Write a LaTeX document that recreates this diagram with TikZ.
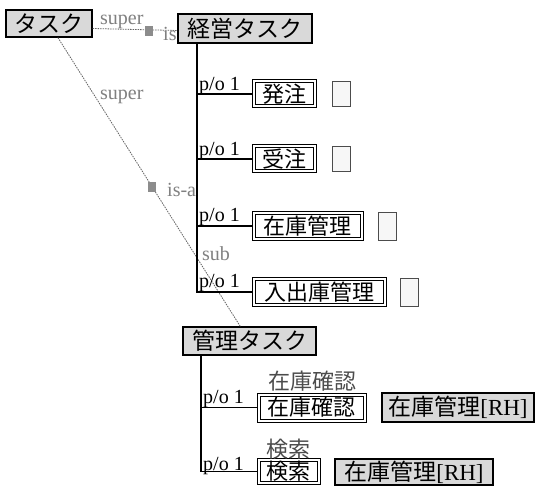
\documentclass[tikz,border=0pt]{standalone}
\usepackage{fontspec}
\setmainfont{Liberation Serif}
\newfontfamily\jp{Noto Sans CJK JP}
\usetikzlibrary{calc}
\definecolor{boxgray}{HTML}{D9D9D9}
\definecolor{lblgray}{HTML}{808080}
\tikzset{
  graybox/.style={draw, line width=1.1pt, fill=boxgray, inner sep=0pt, font=\fontsize{23}{24}\selectfont\jp},
  dbox/.style={draw, line width=1pt, fill=white, inner sep=0pt, font=\fontsize{22}{24}\selectfont\jp},
  ebox/.style={draw=black!70, line width=0.9pt, fill=black!3, inner sep=0pt, minimum width=18, minimum height=25},
  lbl/.style={font=\fontsize{20}{20}\selectfont, inner sep=0pt},
  glbl/.style={lbl, text=lblgray},
  over/.style={inner sep=0pt, text=black!70, font=\fontsize{22}{24}\selectfont\jp},
  trunk/.style={line width=1.3pt},
  inner/.style={line width=1pt},
  isa/.style={dash pattern=on 1.5pt off 1pt, draw=black!60, line width=0.8pt},
  icon/.style={fill=black!45, inner sep=0pt, minimum width=8, minimum height=10}
}
\begin{document}
\begin{tikzpicture}[x=1pt,y=-1pt]
\useasboundingbox[fill=white] (0,0) rectangle (536,489);
% nodes
\node[graybox, minimum width=86, minimum height=27] (task) at (49,23.5) {タスク};
\node[graybox, minimum width=134, minimum height=29] (keiei) at (245,28.5) {経営タスク};
\node[dbox, minimum width=64, minimum height=28] (hatchu) at (284,94) {発注};
\node[ebox] (e1) at (341,94) {};
\node[dbox, minimum width=64, minimum height=28] (juchu) at (284,159) {受注};
\node[ebox] (e2) at (341,159) {};
\node[dbox, minimum width=111, minimum height=29] (zaiko) at (307.5,226) {在庫管理};
\node[ebox, minimum height=28] (e3) at (387,226) {};
\node[dbox, minimum width=134, minimum height=29] (nyu) at (319,292) {入出庫管理};
\node[ebox, minimum height=28] (e4) at (409,292) {};
\node[graybox, minimum width=133, minimum height=28] (kanri) at (249.5,341) {管理タスク};
\node[dbox, minimum width=109, minimum height=29] (kakunin) at (311.5,407.5) {在庫確認};
\node[graybox, minimum width=152, minimum height=29] (rh1) at (458,407.5) {在庫管理\rmfamily[RH]};
\node[dbox, minimum width=63, minimum height=26] (kensaku) at (288.5,471.5) {検索};
\node[graybox, minimum width=158, minimum height=26] (rh2) at (414,472) {在庫管理\rmfamily[RH]};
\foreach \n in {hatchu,juchu,zaiko,nyu,kakunin,kensaku}
  \draw[inner] ($(\n.south west)+(3.5,-3.5)$) rectangle ($(\n.north east)+(-3.5,3.5)$);
\node[over] (ov1) at (312,381) {在庫確認};
\node[over] (ov2) at (288,449) {検索};
% is-a connectors
\draw[isa] ($(task.east)+(0,5)$) -- ($(keiei.west)+(0,2)$);
\draw[isa] (task) -- (kanri);
\node[glbl, anchor=base west] (s1) at (100,25) {super};
\node[icon] (i1) at (149,31) {};
\node[glbl, anchor=base west] (is1) at (163,41) {is};
\node[glbl, anchor=base west] (s2) at (100,100) {super};
\node[icon] (i2) at (152,187.5) {};
\node[glbl, anchor=base west] (isa2) at (167,197) {is-a};
\node[glbl, anchor=base west] (sub) at (202,261) {sub};
% part-of trunks
\coordinate (t1) at (197,43);
\draw[trunk] (t1) |- (hatchu.west);
\draw[trunk] (t1) |- (juchu.west);
\draw[trunk] (t1) |- (zaiko.west);
\draw[trunk] (t1) |- (nyu.west);
\coordinate (t2) at (201,355);
\draw[trunk] (t2) |- (kakunin.west);
\draw[trunk] (t2) |- (kensaku.west);
\node[lbl, anchor=base west] (p1) at (199,91) {p/o 1};
\node[lbl, anchor=base west] (p2) at (199,156) {p/o 1};
\node[lbl, anchor=base west] (p3) at (199,222) {p/o 1};
\node[lbl, anchor=base west] (p4) at (199,288) {p/o 1};
\node[lbl, anchor=base west] (p5) at (203,403) {p/o 1};
\node[lbl, anchor=base west] (p6) at (203,470) {p/o 1};
\end{tikzpicture}
\end{document}
